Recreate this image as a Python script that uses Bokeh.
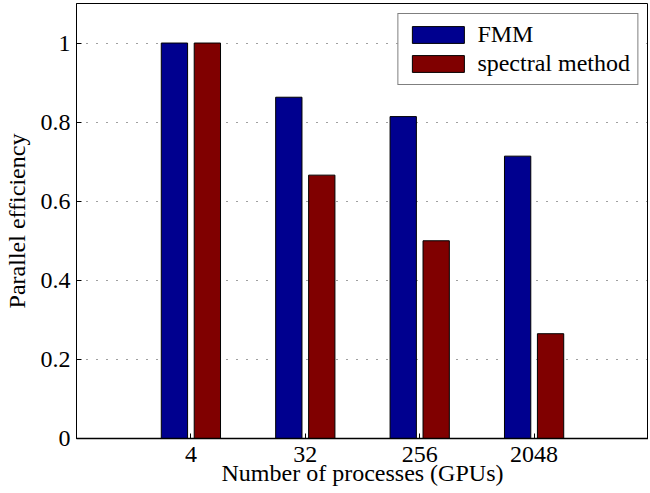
from bokeh.plotting import figure
from bokeh.models import FactorRange, Range1d, FixedTicker, Legend, LegendItem, ColumnDataSource
from bokeh.transform import dodge
from bokeh.embed import file_html
from bokeh.resources import INLINE

# ---- data ----
processes = ["4", "32", "256", "2048"]
fmm = [1.0, 0.863, 0.814, 0.714]
spectral = [1.0, 0.666, 0.500, 0.265]
y_ticks = [0, 0.2, 0.4, 0.6, 0.8, 1.0]
y_tick_labels = ["0", "0.2", "0.4", "0.6", "0.8", "1"]
series_names = ["FMM", "spectral method"]

FONT = "Liberation Serif"
BLUE = "#00008F"
RED = "#800000"

src = ColumnDataSource(dict(processes=processes, fmm=fmm, spectral=spectral))

p = figure(x_range=FactorRange(factors=processes, range_padding=0.25),
           y_range=Range1d(0, 1.1),
           width=648, height=488,
           output_backend="svg", toolbar_location=None,
           min_border_left=71, min_border_right=0,
           min_border_top=3, min_border_bottom=0)

p.outline_line_color = "black"
p.outline_line_width = 1
p.background_fill_color = "white"
p.border_fill_color = "white"

r1 = p.vbar(x=dodge("processes", -0.144, range=p.x_range), top="fmm", width=0.23,
            source=src, fill_color=BLUE, line_color="black", line_width=1)
r2 = p.vbar(x=dodge("processes", 0.144, range=p.x_range), top="spectral", width=0.23,
            source=src, fill_color=RED, line_color="black", line_width=1)

# grid
p.xgrid.grid_line_color = None
p.ygrid.ticker = FixedTicker(ticks=y_ticks)
p.ygrid.grid_line_color = "black"
p.ygrid.grid_line_alpha = 0.75
p.ygrid.grid_line_dash = "1 9"
p.ygrid.grid_line_width = 1

# x axis
xa = p.xaxis[0]
xa.axis_label = "Number of processes (GPUs)"
xa.axis_label_text_font = FONT
xa.axis_label_text_font_size = "24px"
xa.axis_label_text_font_style = "normal"
xa.axis_label_text_color = "black"
xa.axis_label_standoff = -5
xa.major_label_text_font = FONT
xa.major_label_text_font_size = "24px"
xa.major_label_text_color = "black"
xa.major_label_standoff = 8
xa.major_tick_in = 5
xa.major_tick_out = 0
xa.major_tick_line_color = "black"
xa.axis_line_color = "black"
xa.axis_line_width = 1.5

# y axis
ya = p.yaxis[0]
ya.ticker = FixedTicker(ticks=y_ticks)
ya.major_label_overrides = {t: s for t, s in zip(y_ticks, y_tick_labels)}
ya.axis_label = "Parallel efficiency"
ya.axis_label_text_font = FONT
ya.axis_label_text_font_size = "24px"
ya.axis_label_text_font_style = "normal"
ya.axis_label_text_color = "black"
ya.axis_label_standoff = 8
ya.major_label_text_font = FONT
ya.major_label_text_font_size = "24px"
ya.major_label_text_color = "black"
ya.major_label_standoff = 6
ya.major_tick_in = 5
ya.major_tick_out = 0
ya.minor_tick_line_color = None
ya.axis_line_color = "black"

legend = Legend(items=[LegendItem(label=series_names[0], renderers=[r1]),
                       LegendItem(label=series_names[1], renderers=[r2])],
                location="top_right")
legend.border_line_color = "black"
legend.border_line_width = 1
legend.background_fill_color = "white"
legend.background_fill_alpha = 1
legend.padding = 7
legend.spacing = 2
legend.margin = 10
legend.glyph_width = 65
legend.glyph_height = 21
legend.label_height = 21
legend.label_standoff = 7
legend.label_text_font = FONT
legend.label_text_font_size = "24px"
legend.label_text_color = "black"
legend.label_text_baseline = "middle"
p.add_layout(legend)

open("out.html", "w").write(file_html(p, INLINE))
